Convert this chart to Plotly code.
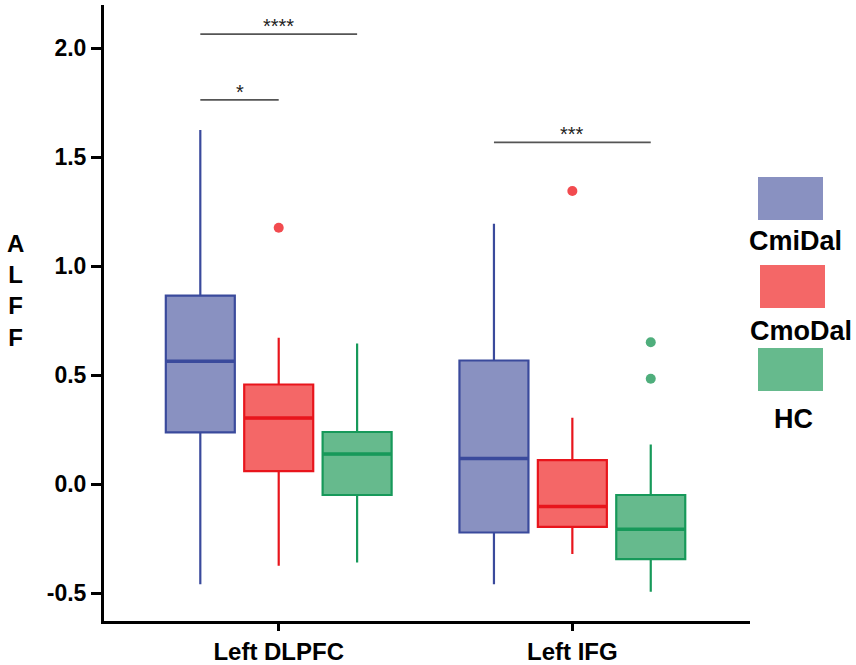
import plotly.graph_objects as go

# regions and groups
regions = ["Left DLPFC", "Left IFG"]
groups = ["CmiDal", "CmoDal", "HC"]

# box stats per group, one value per region
upper = {"CmiDal": [1.625, 1.195], "CmoDal": [0.673, 0.305], "HC": [0.646, 0.183]}
q3 = {"CmiDal": [0.866, 0.568], "CmoDal": [0.458, 0.111], "HC": [0.240, -0.049]}
median = {"CmiDal": [0.565, 0.119], "CmoDal": [0.304, -0.102], "HC": [0.139, -0.206]}
q1 = {"CmiDal": [0.238, -0.221], "CmoDal": [0.061, -0.195], "HC": [-0.049, -0.343]}
lower = {"CmiDal": [-0.458, -0.458], "CmoDal": [-0.374, -0.320], "HC": [-0.359, -0.493]}

# outliers: (region index, value)
outliers = {"CmiDal": [], "CmoDal": [(0, 1.177), (1, 1.346)], "HC": [(1, 0.652), (1, 0.484)]}

# significance brackets: region, group from, group to, height, label
sig_region = [0, 0, 1]
sig_from = [0, 0, 0]
sig_to = [1, 2, 2]
sig_y = [1.764, 2.065, 1.569]
sig_text = ["*", "****", "***"]

fill = {"CmiDal": "#8991c1", "CmoDal": "#f46767", "HC": "#66ba8d"}
edge = {"CmiDal": "#3a4a9c", "CmoDal": "#e8151c", "HC": "#17995a"}
dot = {"CmiDal": "#8991c1", "CmoDal": "#f24b4f", "HC": "#4fae7c"}

offset = 0.267
box_w = 0.235
font_family = "Liberation Sans, Arial, sans-serif"

W, H = 856, 665
L, R, T, B = 104, 106, 5, 44


def px(x):  # pixel -> paper x
    return (x - L) / (W - L - R)


def py(y):  # pixel -> paper y
    return (H - B - y) / (H - T - B)


fig = go.Figure()
for gi, g in enumerate(groups):
    xs = [ri + (gi - 1) * offset for ri in range(len(regions))]
    fig.add_trace(go.Box(
        x=xs, q1=q1[g], median=median[g], q3=q3[g],
        lowerfence=lower[g], upperfence=upper[g],
        width=box_w, fillcolor=fill[g], line=dict(color=edge[g], width=2.2),
        boxpoints=False, whiskerwidth=0, name=g, showlegend=False,
    ))
    # thicker median line
    for x, m in zip(xs, median[g]):
        fig.add_shape(type="line", x0=x - box_w / 2, x1=x + box_w / 2, y0=m, y1=m,
                      line=dict(color=edge[g], width=3.5))
    if outliers[g]:
        fig.add_trace(go.Scatter(
            x=[ri + (gi - 1) * offset for ri, _ in outliers[g]],
            y=[v for _, v in outliers[g]],
            mode="markers", marker=dict(color=dot[g], size=10),
            showlegend=False,
        ))

for r, a, b, y, t in zip(sig_region, sig_from, sig_to, sig_y, sig_text):
    x0 = r + (a - 1) * offset
    x1 = r + (b - 1) * offset
    fig.add_shape(type="line", x0=x0, x1=x1, y0=y, y1=y, line=dict(color="#555555", width=1.8))
    fig.add_annotation(x=(x0 + x1) / 2, y=y, text=t, showarrow=False, yanchor="bottom",
                       yshift=-5, font=dict(family=font_family, size=20, color="#222222"))

# manual legend: swatch with label below
sw_left = [758, 760, 758]
sw_top = [177, 265, 348]
for g, lft, top in zip(groups, sw_left, sw_top):
    fig.add_shape(type="rect", xref="paper", yref="paper",
                  x0=px(lft), x1=px(lft + 65), y0=py(top), y1=py(top + 43),
                  fillcolor=fill[g], line=dict(width=0))
label_x = [795, 801, 793]
label_y = [241, 331, 419]
for g, lx, ly in zip(groups, label_x, label_y):
    fig.add_annotation(xref="paper", yref="paper", x=px(lx), y=py(ly),
                       text=g, showarrow=False, xanchor="center", yanchor="middle",
                       font=dict(family=font_family, size=27, color="black", weight="bold"))

fig.add_annotation(xref="paper", yref="paper", x=px(15), y=py(290),
                   text="A<br>L<br>F<br>F", showarrow=False, xanchor="center", yanchor="middle",
                   font=dict(family=font_family, size=24, color="black", weight="bold"))

fig.update_layout(
    width=W, height=H,
    margin=dict(l=L, r=R, t=T, b=B, pad=0),
    plot_bgcolor="white", paper_bgcolor="white",
    showlegend=False,
    font=dict(family=font_family, color="black"),
)
fig.update_xaxes(
    range=[-0.595, 1.605], tickvals=[0, 1], ticktext=regions,
    showline=True, linecolor="black", linewidth=3, showgrid=False, zeroline=False,
    ticks="outside", ticklen=7, tickwidth=3, tickcolor="black",
    tickfont=dict(size=24, weight="bold"), automargin=False,
)
fig.update_yaxes(
    range=[-0.627, 2.199], tickvals=[-0.5, 0, 0.5, 1.0, 1.5, 2.0],
    ticktext=["-0.5", "0.0", "0.5", "1.0", "1.5", "2.0"],
    showline=True, linecolor="black", linewidth=3, showgrid=False, zeroline=False,
    ticks="outside", ticklen=10, tickwidth=3, tickcolor="black",
    tickfont=dict(size=23, weight="bold"), automargin=False,
)

# drop the default page margin so the figure fills the window exactly
fig.write_html("out.html", config={"displayModeBar": False},
               post_script="document.body.style.margin='0';document.body.style.overflow='hidden';")
